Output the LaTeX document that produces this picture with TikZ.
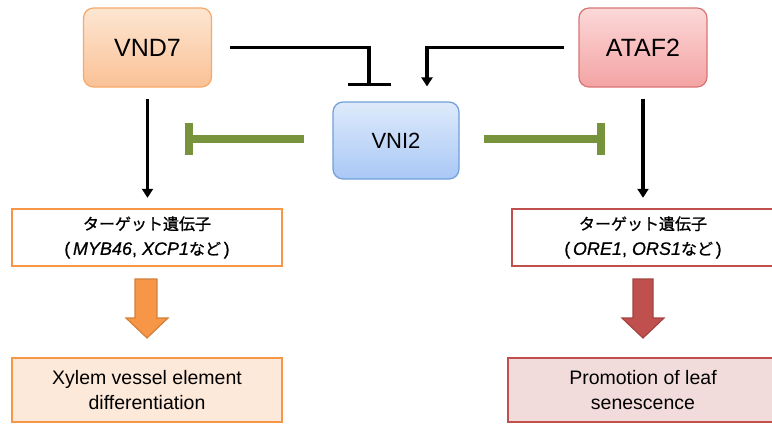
\documentclass[tikz,border=0pt]{standalone}
\usepackage{fontspec}
\setmainfont{Liberation Sans}
\newfontfamily\jp[FakeBold=1]{Noto Sans CJK JP}
\newfontfamily\lat[FakeBold=0.6]{Liberation Sans}
\usetikzlibrary{arrows.meta}
\definecolor{orgB}{HTML}{F6A96A}
\definecolor{orgT}{HTML}{FDE6D2}
\definecolor{orgM}{HTML}{FAC196}
\definecolor{redB}{HTML}{D97474}
\definecolor{redT}{HTML}{FCD8D8}
\definecolor{redM}{HTML}{F4A3A3}
\definecolor{bluB}{HTML}{709FD8}
\definecolor{bluT}{HTML}{DEEAFB}
\definecolor{bluM}{HTML}{A9C8F5}
\definecolor{grn}{HTML}{77933C}
\definecolor{orgE}{HTML}{F79646}
\definecolor{redE}{HTML}{C0504D}
\definecolor{orgF}{HTML}{FDE9D9}
\definecolor{redF}{HTML}{F2DCDB}
\newcommand{\gi}[1]{{\lat\itshape\fontsize{18}{25}\selectfont #1}}
\newcommand{\gp}[1]{{\lat\fontsize{18}{25}\selectfont #1}}
\tikzset{
  tf/.style={rounded corners=10pt, line width=1.2pt, minimum width=128pt, minimum height=79pt, font=\fontsize{25}{28}\selectfont, inner sep=0pt},
  tgt/.style={line width=2.4pt, fill=white, minimum height=57pt, align=center, inner sep=0pt, font=\jp\fontsize{16}{25}\selectfont},
  res/.style={line width=2.4pt, minimum height=64pt, align=center, inner sep=0pt, font=\fontsize{19.5}{25}\selectfont},
  act/.style={line width=3.2pt, -{Triangle[length=9pt,width=11pt]}},
  ginh/.style={line width=8pt, color=grn, -{Bar[width=32pt]}},
  barrow/.style={line width=1.2pt, line join=miter}
}
\begin{document}
\begin{tikzpicture}[x=1pt,y=-1pt]
\useasboundingbox (0,0) rectangle (772,424);
\node[tf, draw=orgB, top color=orgT, bottom color=orgM] (vnd) at (147.5,47.5) {VND7};
\node[tf, draw=redB, top color=redT, bottom color=redM] (ataf) at (643,47.5) {ATAF2};
\node[tf, draw=bluB, top color=bluT, bottom color=bluM, minimum width=126pt, minimum height=77pt, font=\fontsize{22}{26}\selectfont] (vni) at (396,140.5) {VNI2};
\node[tgt, draw=orgE, minimum width=270pt] (tl) at (147,237.5) {ターゲット遺伝子\\\gp{(}\,\gi{MYB46}\gp{, }\gi{XCP1}など\,\gp{)}};
\node[tgt, draw=redE, minimum width=262pt] (tr) at (643,237.5) {ターゲット遺伝子\\\gp{(}\,\gi{ORE1}\gp{, }\gi{ORS1}など\,\gp{)}};
\node[res, draw=orgE, fill=orgF, minimum width=270pt] (rl) at (147,390) {Xylem vessel element\\differentiation};
\node[res, draw=redE, fill=redF, minimum width=270pt] (rr) at (643,390) {Promotion of leaf\\senescence};
% VND7 -| VNI2 inhibition
\draw[line width=3.2pt, shorten <=18pt, shorten >=15pt, -{Bar[width=43pt,line width=3.2pt]}] (vnd.east) -| ([xshift=-27pt]vni.north);
% ATAF2 -> VNI2
\draw[act, shorten <=14pt, shorten >=15pt] (ataf.west) -| ([xshift=31pt]vni.north);
% vertical arrows
\draw[act, shorten <=11pt, shorten >=10pt] (vnd.south) -- (vnd.south |- tl.north);
\draw[act, shorten <=11pt, shorten >=10pt] (ataf.south) -- (ataf.south |- tr.north);
% green inhibitions
\coordinate (gl) at (185,139);
\coordinate (gr) at (605,139);
\draw[ginh, shorten <=28pt] (vni.west |- gl) -- (gl);
\draw[ginh, shorten <=24pt] (vni.east |- gr) -- (gr);
% block arrows
\filldraw[barrow, draw=orgE!85!black, fill=orgE] (135,279) -- (157,279) -- (157,318) -- (168,318) -- (147,338) -- (126,318) -- (135,318) -- cycle;
\filldraw[barrow, draw=redE!85!black, fill=redE] (633,279) -- (653,279) -- (653,318) -- (664,318) -- (643,338) -- (622,318) -- (633,318) -- cycle;
\end{tikzpicture}
\end{document}
